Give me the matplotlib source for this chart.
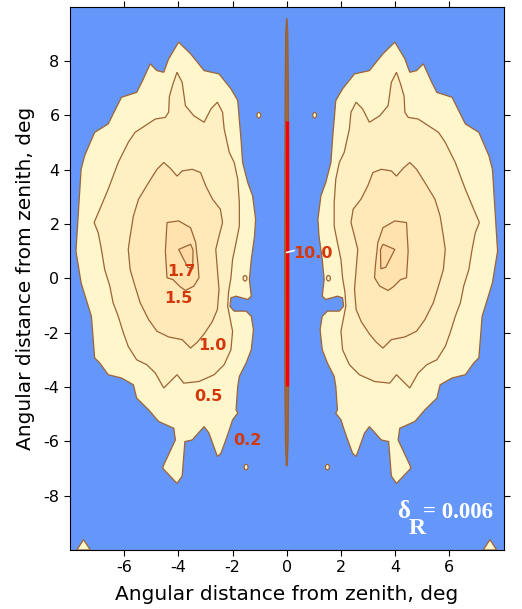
import matplotlib.pyplot as plt
import numpy as np

plt.rcParams['axes.unicode_minus'] = False

# contour outlines of the left blob (deg); right blob is its mirror image
levels = [0.2, 0.5, 1.0, 1.5, 1.7]
fills = ['#FFF6CC', '#FFF0C3', '#FFE9B9', '#FFE2AE', '#FFDAA4']

c02_x = [-3.99, -3.55, -3.05, -2.50, -2.06, -1.81, -1.69, -1.63, -1.44, -1.26, -1.15, -1.19,
         -1.31, -1.38, -1.31, -1.44, -1.87, -2.06, -2.10, -1.94, -1.50, -1.31, -1.23, -1.31,
         -1.50, -1.75, -1.81, -1.87, -1.81, -2.00, -2.12, -2.25, -2.43, -2.56, -2.87, -3.05,
         -3.49, -3.76, -3.86, -4.05, -4.58, -4.54, -4.11, -4.17, -4.73, -5.10, -5.54, -5.66,
         -6.10, -6.59, -6.90, -7.09, -7.21, -7.59, -7.78, -7.59, -7.46, -7.09, -6.59, -6.41,
         -6.10, -5.54, -5.35, -5.04, -4.79, -4.54, -4.36]
c02_y = [8.69, 8.26, 7.64, 7.52, 6.97, 6.54, 5.12, 4.26, 3.52, 3.03, 2.17, 1.55,
         0.69, -0.04, -0.66, -0.78, -0.66, -0.72, -1.03, -1.21, -1.21, -1.40, -1.89, -2.63,
         -3.12, -3.61, -3.98, -4.84, -4.96, -5.21, -5.58, -5.95, -6.44, -6.56, -5.70, -5.46,
         -5.95, -6.01, -7.28, -7.55, -6.99, -6.87, -5.95, -5.52, -5.27, -4.84, -4.41, -3.92,
         -3.67, -3.55, -3.12, -2.93, -1.40, -0.17, 1.00, 4.01, 4.51, 5.37, 5.68, 6.04,
         6.66, 6.84, 7.21, 7.89, 7.64, 7.58, 8.07]

c05_x = [-4.05, -3.86, -3.74, -3.43, -3.05, -2.80, -2.56, -2.37, -2.31, -2.12, -1.94, -1.81,
         -1.75, -1.75, -1.87, -2.00, -2.06, -2.15, -2.18, -2.00, -2.06, -2.31, -2.68, -3.24,
         -3.80, -4.05, -4.25, -4.54, -4.85, -5.17, -5.54, -5.85, -6.03, -6.22, -6.41, -6.53,
         -6.72, -6.84, -6.96, -7.11, -6.90, -6.59, -6.22, -5.85, -5.60, -4.85, -4.48, -4.36,
         -4.33, -4.20]
c05_y = [7.58, 7.21, 6.35, 5.98, 5.74, 6.23, 6.48, 6.11, 5.49, 4.63, 4.26, 3.65,
         2.79, 1.92, 1.31, 0.69, 0.02, -0.53, -1.03, -1.95, -2.63, -3.18, -3.55, -3.80,
         -3.86, -3.55, -3.75, -4.04, -3.49, -3.18, -3.00, -2.51, -2.01, -1.40, -0.90, -0.29,
         0.32, 1.06, 1.68, 2.05, 2.54, 3.28, 4.26, 5.00, 5.37, 5.86, 5.92, 6.11,
         6.70, 7.15]

c10_x = [-4.54, -4.30, -4.05, -3.86, -3.49, -3.18, -2.99, -2.74, -2.45, -2.37, -2.50, -2.62,
         -2.56, -2.50, -2.56, -2.75, -3.05, -3.30, -3.55, -3.86, -4.36, -4.79, -5.10, -5.41,
         -5.60, -5.78, -5.85, -5.78, -5.66, -5.47, -5.10, -4.79]
c10_y = [4.26, 4.05, 3.76, 3.95, 4.01, 3.89, 3.40, 2.91, 2.54, 2.05, 1.55, 1.06,
         0.32, -0.41, -1.15, -1.60, -2.05, -2.35, -2.57, -2.26, -2.16, -1.95, -1.52, -0.90,
         -0.29, 0.32, 1.06, 1.55, 2.29, 2.91, 3.52, 4.01]

c15_x = [-4.42, -3.99, -3.55, -3.36, -3.27, -3.24, -3.43, -3.74, -3.95, -4.20, -4.42, -4.48]
c15_y = [2.05, 2.11, 1.86, 1.31, 0.45, 0.02, -0.29, -0.45, -0.30, -0.05, 0.02, 1.00]

c17_x = [-3.99, -3.55, -3.46, -3.47, -3.65]
c17_y = [1.06, 1.25, 1.05, 0.35, 0.40]

# small isolated 0.2 islands
dot_x = [-1.03, -1.54, -1.50]
dot_y = [6.0, 0.0, -6.95]
corner_x = [-7.75, -7.5, -7.25]
corner_y = [-10.0, -9.62, -10.0]

# narrow ridge along x = 0
ridge_y = [-6.9, -6.0, -4.0, 0.0, 4.0, 7.0, 9.0, 9.55]
ridge_w = [0.02, 0.05, 0.07, 0.08, 0.07, 0.06, 0.04, 0.01]
red_y = [-3.95, 5.8]

label_text = ['1.7', '1.5', '1.0', '0.5', '0.2', '10.0']
label_x = [-3.89, -4.0, -2.74, -2.88, -1.46, 0.98]
label_y = [0.25, -0.76, -2.48, -4.35, -5.97, 0.92]

blue = '#6597FA'
edge = '#9C6435'

fig = plt.figure(figsize=(5.22, 6.09), dpi=100)
ax = fig.add_axes([0.1341, 0.0969, 0.8305, 0.8924])
ax.set_facecolor(blue)

outlines = [(c02_x, c02_y), (c05_x, c05_y), (c10_x, c10_y), (c15_x, c15_y), (c17_x, c17_y)]
for side in (1, -1):
    for (px, py), col in zip(outlines, fills):
        ax.fill(np.array(px) * side, py, facecolor=col, edgecolor=edge, linewidth=0.9, zorder=2)
    for dx, dy in zip(dot_x, dot_y):
        ax.add_patch(plt.matplotlib.patches.Ellipse((dx * side, dy), 0.14, 0.2,
                     facecolor=fills[0], edgecolor=edge, linewidth=0.9, zorder=2))
    ax.fill(np.array(corner_x) * side, corner_y, facecolor=fills[0], edgecolor=edge,
            linewidth=0.9, zorder=2)

rw = np.array(ridge_w)
ax.fill(np.concatenate([-rw, rw[::-1]]), np.concatenate([ridge_y, ridge_y[::-1]]),
        facecolor='#A0693A', edgecolor='#9A6030', linewidth=0.8, zorder=3)
ax.plot([0, 0], red_y, color='#FF0000', linewidth=2.4, solid_capstyle='butt', zorder=4)
ax.plot([0.0, 0.27], [0.95, 1.02], color='white', linewidth=1.2, zorder=5)

for t, x, y in zip(label_text, label_x, label_y):
    ax.text(x, y, t, color='#D4380A', fontsize=11.5, fontweight='bold',
            ha='center', va='center', zorder=6)

ax.text(0.755, 0.058, 'δ', transform=ax.transAxes, color='white', fontsize=18,
        family='Liberation Serif', fontweight='bold', ha='left', va='baseline', zorder=6)
ax.text(0.781, 0.030, 'R', transform=ax.transAxes, color='white', fontsize=17,
        family='Liberation Serif', fontweight='bold', ha='left', va='baseline', zorder=6)
ax.text(0.815, 0.058, '= 0.006', transform=ax.transAxes, color='white', fontsize=16.5,
        family='Liberation Serif', fontweight='bold', ha='left', va='baseline', zorder=6)

ax.set_xlim(-8, 8)
ax.set_ylim(-10, 10)
ax.set_xticks([-6, -4, -2, 0, 2, 4, 6])
ax.set_yticks([-8, -6, -4, -2, 0, 2, 4, 6, 8])
ax.tick_params(direction='out', length=4, labelsize=11.5, top=True, right=True)
ax.set_xlabel('Angular distance from zenith, deg', fontsize=14.5, labelpad=7)
ax.set_ylabel('Angular distance from zenith, deg', fontsize=14.5, labelpad=6)

fig.savefig('out.png', dpi=100)
